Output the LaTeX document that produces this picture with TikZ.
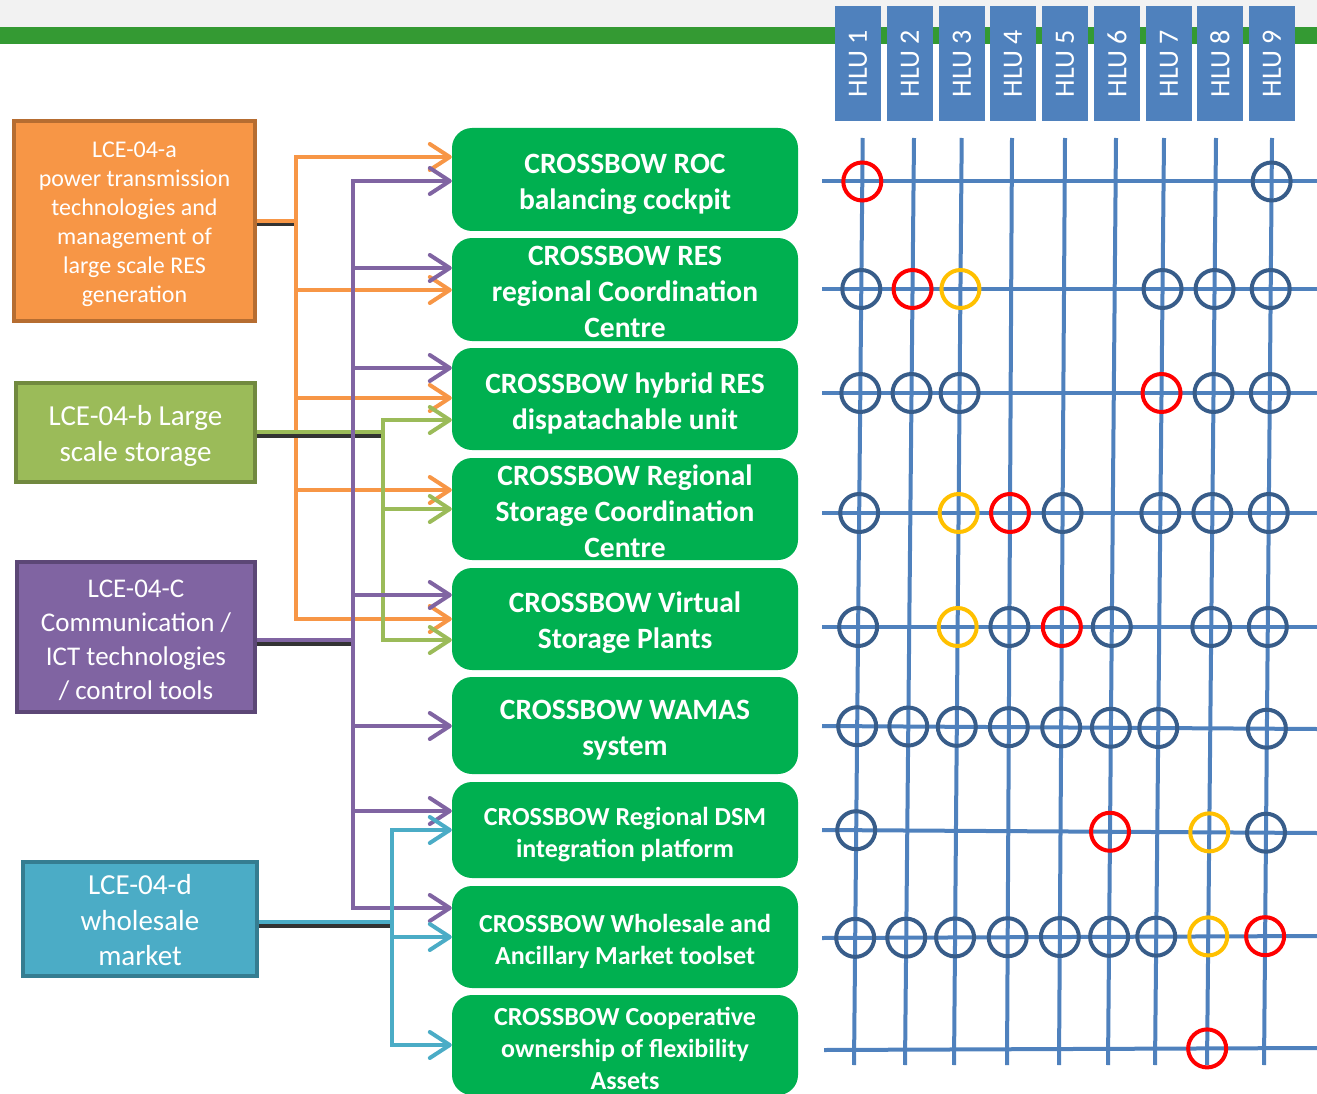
\documentclass[tikz,border=0pt]{standalone}
\usepackage{fontspec}
\setmainfont{Carlito}
\usetikzlibrary{arrows.meta}
\definecolor{gbar}{HTML}{349A33}
\definecolor{boxg}{HTML}{00B050}
\definecolor{hluc}{HTML}{4F81BD}
\definecolor{gridc}{HTML}{4F81BD}
\definecolor{dkc}{HTML}{385D8A}
\definecolor{redc}{HTML}{FF0000}
\definecolor{yelc}{HTML}{FFC000}
\definecolor{orf}{HTML}{F79646}\definecolor{ord}{HTML}{B66D31}
\definecolor{grf}{HTML}{9BBB59}\definecolor{grd}{HTML}{71893F}
\definecolor{puf}{HTML}{8064A2}\definecolor{pud}{HTML}{5C4776}
\definecolor{blf}{HTML}{4BACC6}\definecolor{bld}{HTML}{357D91}
\tikzset{
  lbox/.style={line width=4pt, inner sep=0pt},
  ltxt/.style={text=white, align=center, inner sep=0pt},
  gbox/.style={fill=boxg, rounded corners=20pt, inner sep=0pt, minimum width=346pt},
  gtxt/.style={text=white, align=center, inner sep=0pt},
  gbig/.style={font=\bfseries\fontsize{29.5}{36}\selectfont},
  gsmall/.style={font=\bfseries\fontsize{26}{32}\selectfont},
  hlubox/.style={fill=hluc, minimum width=46pt, minimum height=115pt, inner sep=0pt,
    text=white, font=\fontsize{28}{30}\selectfont},
  conn/.style={line width=4pt, draw=#1},
  arr/.style={line width=4pt, draw=#1, -{Straight Barb[length=20pt,width=26pt,round]}},
  shad/.style={line width=4pt, draw=black!80, transform canvas={yshift=-3.5pt}},
  gline/.style={line width=4pt, draw=gridc},
  ring/.style={line width=4pt, draw=#1},
}
\def\XT{{862.7,914,961.7,1012,1065,1116,1164,1216,1272}}
\def\XB{{854,905,954,1007,1059,1108,1155,1207,1264}}
\def\YL{{181.5,289,393,513,627,726,830,938,1050}}
\def\YR{{181.5,289,393,513,627,729,833,936,1048}}
\begin{document}
\begin{tikzpicture}[x=1pt,y=-1pt]
\useasboundingbox (0,0) rectangle (1317,1094);
\fill[black!5] (0,0) rectangle (1317,27);
\fill[gbar] (0,27) rectangle (1317,44);

% ---------- HLU headers ----------
\foreach \i/\x in {1/858,2/910,3/962,4/1013,5/1065,6/1117,7/1169,8/1220,9/1272}
  \node[hlubox] (hlu\i) at (\x,63.5) {\rotatebox{90}{HLU \i}};

% ---------- grid ----------
\foreach \i/\xt/\xb in {1/862.7/854,2/914/905,3/961.7/954,4/1012/1007,5/1065/1059,6/1116/1108,7/1164/1155,8/1216/1207,9/1272/1264}{
  \coordinate (vt\i) at (\xt,138);
  \coordinate (vb\i) at (\xb,1065);
  \draw[gline] (vt\i) -- (vb\i);
}
\foreach \j/\yl/\yr/\xl in {1/181.5/181.5/822,2/289/289/822,3/393/393/822,4/513/513/822,5/627/627/822,6/726/729/822,7/830/833/822,8/938/936/822,9/1050/1048/824}{
  \coordinate (hl\j) at (\xl,\yl);
  \coordinate (hr\j) at (1317,\yr);
  \draw[gline] (hl\j) -- (hr\j);
}
\foreach \r/\c/\k in {1/1/redc,1/9/dkc,
  2/1/dkc,2/2/redc,2/3/yelc,2/7/dkc,2/8/dkc,2/9/dkc,
  3/1/dkc,3/2/dkc,3/3/dkc,3/7/redc,3/8/dkc,3/9/dkc,
  4/1/dkc,4/3/yelc,4/4/redc,4/5/dkc,4/7/dkc,4/8/dkc,4/9/dkc,
  5/1/dkc,5/3/yelc,5/4/dkc,5/5/redc,5/6/dkc,5/8/dkc,5/9/dkc,
  6/1/dkc,6/2/dkc,6/3/dkc,6/4/dkc,6/5/dkc,6/6/dkc,6/7/dkc,6/9/dkc,
  7/1/dkc,7/6/redc,7/8/yelc,7/9/dkc,
  8/1/dkc,8/2/dkc,8/3/dkc,8/4/dkc,8/5/dkc,8/6/dkc,8/7/dkc,8/8/yelc,8/9/redc,
  9/8/redc}{
  \pgfmathsetmacro\xt{\XT[\c-1]}
  \pgfmathsetmacro\xb{\XB[\c-1]}
  \pgfmathsetmacro\yl{\YL[\r-1]}
  \pgfmathsetmacro\yr{\YR[\r-1]}
  \pgfmathsetmacro\yy{\yl+(\yr-\yl)*((\xt+\xb)/2-822)/495}
  \pgfmathsetmacro\xx{\xt+(\xb-\xt)*(\yy-138)/927}
  \draw[ring=\k] (\xx,\yy) circle (19);
}

% ---------- left boxes ----------
\node[lbox, fill=orf, draw=ord, minimum width=241pt, minimum height=200pt] (oa) at (134.5,221) {};
\node[ltxt, font=\fontsize{24}{29}\selectfont] (oat) at ([yshift=-3.5pt]oa.center)
  {LCE-04-a\\power transmission\\technologies and\\management of\\large scale RES\\generation};
\node[lbox, fill=grf, draw=grd, minimum width=239pt, minimum height=99pt] (ga) at (135.5,432.5) {};
\node[ltxt, font=\fontsize{29}{36}\selectfont] (gat) at ([yshift=-3pt]ga.center)
  {LCE-04-b Large\\scale storage};
\node[lbox, fill=puf, draw=pud, minimum width=238pt, minimum height=150pt] (pa) at (136,637) {};
\node[ltxt, font=\fontsize{27}{34}\selectfont] (pat) at ([yshift=-3pt]pa.center)
  {LCE-04-C\\Communication /\\ICT technologies\\/ control tools};
\node[lbox, fill=blf, draw=bld, minimum width=234pt, minimum height=114pt] (ca) at (140,919) {};
\node[ltxt, font=\fontsize{29}{35.5}\selectfont] (cat) at ([yshift=-1.5pt]ca.center)
  {LCE-04-d\\wholesale\\market};

% ---------- green boxes ----------
\node[gbox, minimum height=103pt] (b1) at (625,179.5) {};
\node[gbox, minimum height=103pt] (b2) at (625,289.5) {};
\node[gbox, minimum height=102pt] (b3) at (625,399) {};
\node[gbox, minimum height=102pt] (b4) at (625,509) {};
\node[gbox, minimum height=102pt] (b5) at (625,619) {};
\node[gbox, minimum height=97pt] (b6) at (625,725.5) {};
\node[gbox, minimum height=96pt] (b7) at (625,830) {};
\node[gbox, minimum height=102pt] (b8) at (625,937) {};
\node[gbox, minimum height=100pt] (b9) at (625,1045) {};
\node[gtxt, gbig] (b1t) at ([yshift=-5pt]b1.center) {CROSSBOW ROC\\balancing cockpit};
\node[gtxt, gbig] (b2t) at ([yshift=-2.5pt]b2.center) {CROSSBOW RES\\regional Coordination\\Centre};
\node[gtxt, gbig] (b3t) at ([yshift=-4.5pt]b3.center) {CROSSBOW hybrid RES\\dispatachable unit};
\node[gtxt, gbig] (b4t) at ([yshift=-2pt]b4.center) {CROSSBOW Regional\\Storage Coordination\\Centre};
\node[gtxt, gbig] (b5t) at ([yshift=-4pt]b5.center) {CROSSBOW Virtual\\Storage Plants};
\node[gtxt, gbig] (b6t) at ([yshift=-5pt]b6.center) {CROSSBOW WAMAS\\system};
\node[gtxt, gsmall] (b7t) at ([yshift=-5pt]b7.center) {CROSSBOW Regional DSM\\integration platform};
\node[gtxt, gsmall] (b8t) at ([yshift=-4pt]b8.center) {CROSSBOW Wholesale and\\Ancillary Market toolset};
\node[gtxt, gsmall] (b9t) at ([yshift=-3pt]b9.center) {CROSSBOW Cooperative\\ownership of flexibility\\Assets};

% ---------- connector junctions ----------
\coordinate (o0) at (296,221);
\foreach \n/\y in {1/157,2/290,3/398,4/490,5/619} \coordinate (o\n) at (296,\y);
\coordinate (g0) at (383,432);
\foreach \n/\y in {3/420,4/509,5/640} \coordinate (g\n) at (383,\y);
\coordinate (p0) at (353,640);
\foreach \n/\y in {1/181,2/268,3/368,5/595,6/726,7/811,8/908} \coordinate (p\n) at (353,\y);
\coordinate (c0) at (392,922);
\foreach \n/\y in {7/830,8/937,9/1045} \coordinate (c\n) at (392,\y);

% ---------- orange ----------
\draw[shad] (oa.east |- o0) -- (o0);
\draw[conn=orf] (oa.east |- o0) -- (o0);
\draw[arr=orf] (o0) -- (o1) -- (o1 -| b1.west);
\draw[arr=orf] (o0) -- (o5) -- (o5 -| b5.west);
\foreach \n in {2,3,4} \draw[arr=orf] (o\n) -- (o\n -| b\n.west);

% ---------- green ----------
\draw[shad] (ga.east |- g0) -- (g0);
\draw[conn=grf] (ga.east |- g0) -- (g0);
\draw[arr=grf] (g0) -- (g3) -- (g3 -| b3.west);
\draw[arr=grf] (g0) -- (g5) -- (g5 -| b5.west);
\draw[arr=grf] (g4) -- (g4 -| b4.west);

% ---------- purple ----------
\draw[shad] (pa.east |- p0) -- (p0);
\draw[conn=puf] (pa.east |- p0) -- (p0);
\draw[arr=puf] (p0) -- (p1) -- (p1 -| b1.west);
\draw[arr=puf] (p0) -- (p8) -- (p8 -| b8.west);
\foreach \n in {2,3,5,6,7} \draw[arr=puf] (p\n) -- (p\n -| b\n.west);

% ---------- blue ----------
\draw[shad] (ca.east |- c0) -- (c0);
\draw[conn=blf] (ca.east |- c0) -- (c0);
\draw[arr=blf] (c0) -- (c7) -- (c7 -| b7.west);
\draw[arr=blf] (c0) -- (c9) -- (c9 -| b9.west);
\draw[arr=blf] (c8) -- (c8 -| b8.west);
\end{tikzpicture}
\end{document}
